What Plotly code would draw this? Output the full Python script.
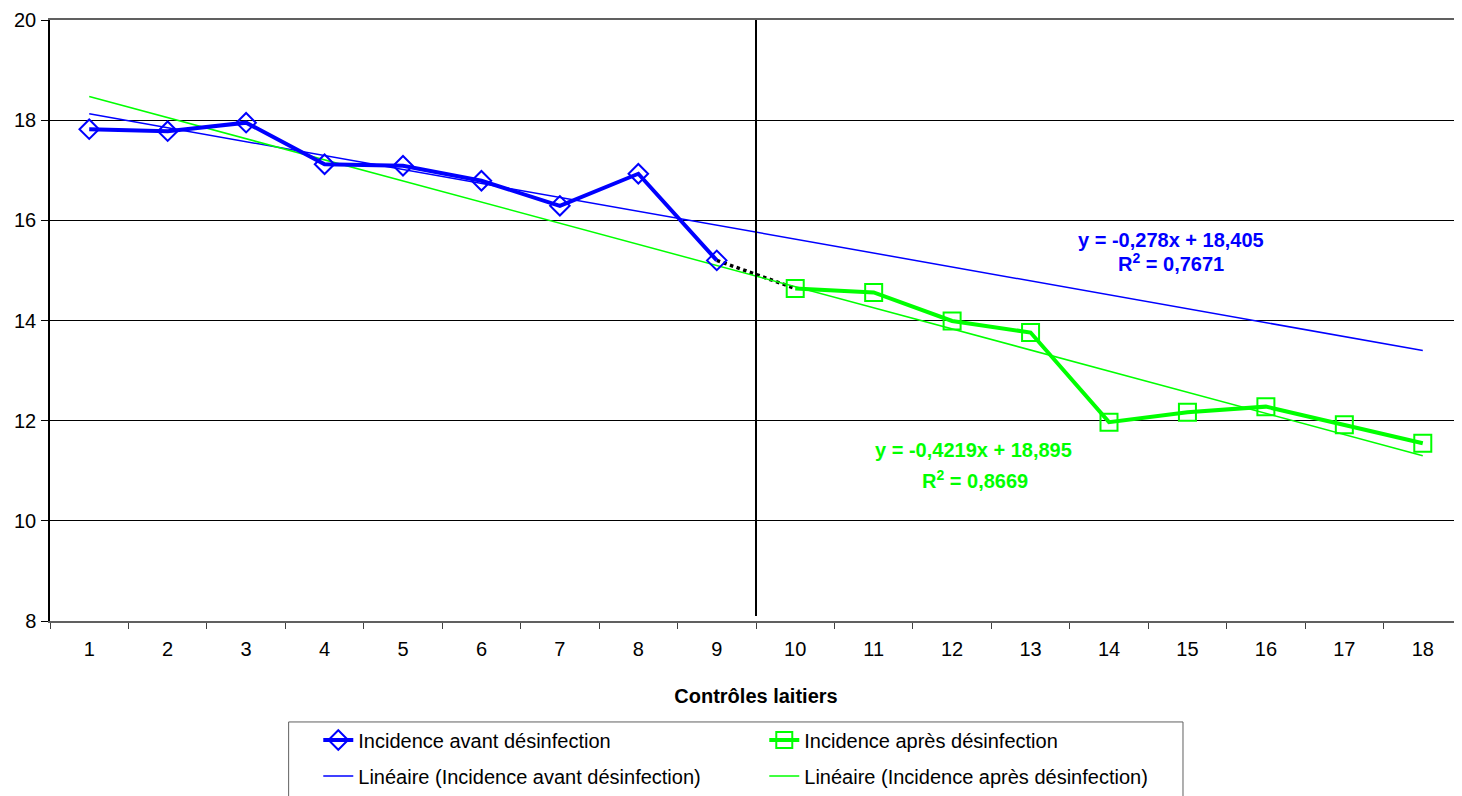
import plotly.graph_objects as go

# données
controles = [str(i) for i in range(1, 19)]
controles_avant = controles[:9]
controles_apres = controles[9:]
incidence_avant = [17.82, 17.78, 17.95, 17.12, 17.09, 16.79, 16.29, 16.93, 15.20]
incidence_apres = [14.64, 14.56, 13.99, 13.76, 11.97, 12.17, 12.28, 11.92, 11.55]
y_ticks = [8, 10, 12, 14, 16, 18, 20]

# courbes de tendance (équations affichées)
pente_avant, origine_avant, r2_avant = -0.278, 18.405, 0.7671
pente_apres, origine_apres, r2_apres = -0.4219, 18.895, 0.8669

BLEU = '#0000FF'
VERT = '#00FF00'
FONT = 'Liberation Sans, Arial, sans-serif'


def tendance(pente, origine):
    xs = [controles[0], controles[-1]]
    ys = [pente * int(x) + origine for x in xs]
    return xs, ys


def fr(v):
    return str(v).replace('.', ',')


fig = go.Figure()

# liaison pointillée entre les deux périodes
fig.add_trace(go.Scatter(
    x=[controles_avant[-1], controles_apres[0]],
    y=[incidence_avant[-1], incidence_apres[0]],
    mode='lines', line=dict(color='black', width=3.5, dash='dot'),
    showlegend=False, hoverinfo='skip'))

xa, ya = tendance(pente_avant, origine_avant)
fig.add_trace(go.Scatter(
    x=xa, y=ya, mode='lines', name='Linéaire (Incidence avant désinfection)',
    line=dict(color=BLEU, width=1.5), legend='legend2'))

xb, yb = tendance(pente_apres, origine_apres)
fig.add_trace(go.Scatter(
    x=xb, y=yb, mode='lines', name='Linéaire (Incidence après désinfection)',
    line=dict(color=VERT, width=1.5), legend='legend2'))

fig.add_trace(go.Scatter(
    x=controles_avant, y=incidence_avant, mode='lines+markers',
    name='Incidence avant désinfection',
    line=dict(color=BLEU, width=4),
    marker=dict(symbol='diamond-open', size=15, color=BLEU, line=dict(width=2)),
    legend='legend'))

fig.add_trace(go.Scatter(
    x=controles_apres, y=incidence_apres, mode='lines+markers',
    name='Incidence après désinfection',
    line=dict(color=VERT, width=4),
    marker=dict(symbol='square-open', size=17, color=VERT, line=dict(width=2)),
    legend='legend'))

# séparation avant / après désinfection
fig.add_shape(type='line', xref='x', yref='y', x0=8.5, x1=8.5, y0=8.1, y1=20,
              line=dict(color='black', width=2))

# cadre de la légende
fig.add_shape(type='rect', xref='paper', yref='paper',
              x0=0.169, x1=0.8024, y0=-0.30, y1=-0.168,
              line=dict(color='#606060', width=1))

eq_font = dict(family=FONT, size=20)
fig.add_annotation(xref='paper', yref='y', x=0.794, y=15.61, xanchor='center',
                   showarrow=False,
                   text='<b>y = %sx + %s</b>' % (fr(pente_avant), fr(origine_avant)),
                   font=dict(color=BLEU, **eq_font))
fig.add_annotation(xref='paper', yref='y', x=0.794, y=15.15, xanchor='center',
                   showarrow=False,
                   text='<b>R<sup>2</sup> = %s</b>' % fr(r2_avant),
                   font=dict(color=BLEU, **eq_font))
fig.add_annotation(xref='paper', yref='y', x=0.654, y=11.42, xanchor='center',
                   showarrow=False,
                   text='<b>y = %sx + %s</b>' % (fr(pente_apres), fr(origine_apres)),
                   font=dict(color=VERT, **eq_font))
fig.add_annotation(xref='paper', yref='y', x=0.655, y=10.82, xanchor='center',
                   showarrow=False,
                   text='<b>R<sup>2</sup> = %s</b>' % fr(r2_apres),
                   font=dict(color=VERT, **eq_font))

legend_common = dict(orientation='h', xanchor='left', yanchor='middle',
                     bgcolor='rgba(0,0,0,0)', borderwidth=0,
                     entrywidth=401, entrywidthmode='pixels',
                     font=dict(family=FONT, size=20, color='black'),
                     traceorder='normal')

# la page ajoute 8 px de marge autour de la figure
fig.update_layout(
    width=1454, height=788,
    margin=dict(l=42, r=0, t=12, b=167),
    paper_bgcolor='white', plot_bgcolor='white',
    font=dict(family=FONT, size=20, color='black'),
    xaxis=dict(type='category', categoryorder='array', categoryarray=controles,
               range=[-0.5, len(controles) - 0.5],
               tickson='boundaries', ticks='outside', ticklen=6,
               tickcolor='#404040', showgrid=False,
               showline=True, linecolor='#606060', linewidth=2, mirror=True,
               ticklabelstandoff=9,
               title=dict(text='<b>Contrôles laitiers</b>', standoff=30,
                          font=dict(family=FONT, size=20))),
    yaxis=dict(range=[8, 20], tickvals=y_ticks, ticks='outside', ticklen=7,
               tickcolor='black', showgrid=True, gridcolor='black', gridwidth=1,
               showline=True, linecolor='black', linewidth=1.5,
               zeroline=False, ticklabelstandoff=1),
    legend=dict(x=0.19, y=-0.198, **legend_common),
    legend2=dict(x=0.19, y=-0.258, **legend_common),
)

fig.write_html("out.html")
